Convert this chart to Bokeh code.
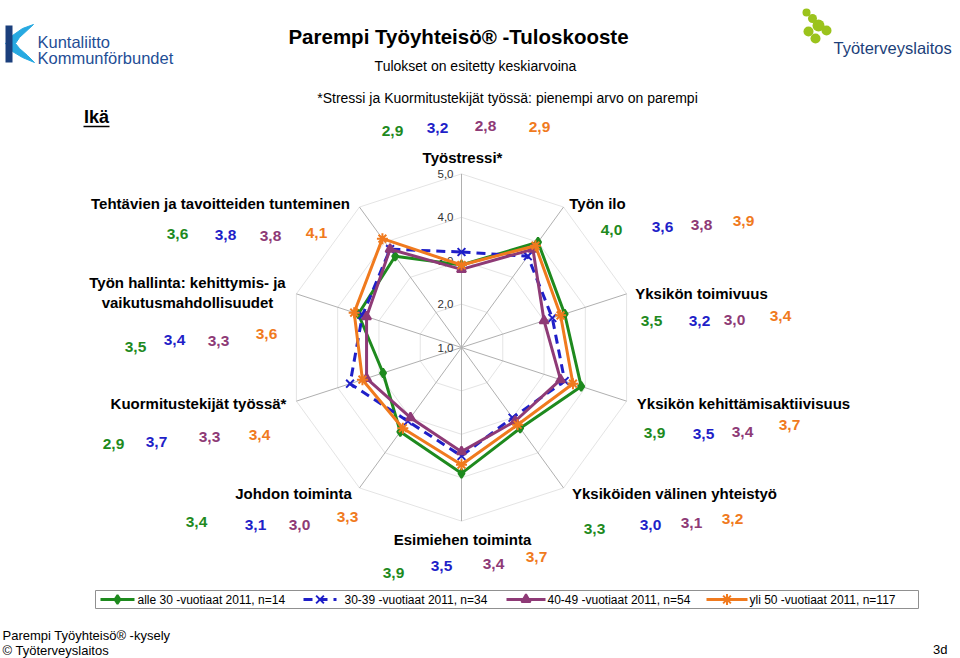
import math
from bokeh.plotting import figure
from bokeh.models import Range1d
from bokeh.embed import file_html
from bokeh.resources import INLINE
from bokeh.core.properties import value

# ---------------- data ----------------
categories = ["Työstressi*", "Työn ilo", "Yksikön toimivuus",
              "Yksikön kehittämisaktiivisuus", "Yksiköiden välinen yhteistyö",
              "Esimiehen toiminta", "Johdon toiminta", "Kuormitustekijät työssä*",
              "Työn hallinta: kehittymis- ja\nvaikutusmahdollisuudet",
              "Tehtävien ja tavoitteiden tunteminen"]
series_names = ["alle 30 -vuotiaat 2011, n=14", "30-39 -vuotiaat 2011, n=34",
                "40-49 -vuotiaat 2011, n=54", "yli 50 -vuotiaat 2011, n=117"]
alle30 = [2.9, 4.0, 3.5, 3.9, 3.3, 3.9, 3.4, 2.9, 3.5, 3.6]
v30_39 = [3.2, 3.6, 3.2, 3.5, 3.0, 3.5, 3.1, 3.7, 3.4, 3.8]
v40_49 = [2.8, 3.8, 3.0, 3.4, 3.1, 3.4, 3.0, 3.3, 3.3, 3.8]
yli50 = [2.9, 3.9, 3.4, 3.7, 3.2, 3.7, 3.3, 3.4, 3.6, 4.1]
ticks = [1.0, 2.0, 3.0, 4.0, 5.0]
tick_labels = ["1,0", "2,0", "3,0", "4,0", "5,0"]

series = [alle30, v30_39, v40_49, yli50]

# ---------------- styles / layout ----------------
colors = ["#1E8A1E", "#1F1FC8", "#8E3A76", "#F07A1E"]
markers = ["diamond", "x", "triangle", "asterisk"]
msizes = [9, 11, 9, 11]
dashes = ["solid", "9 6", "solid", "solid"]
FONT = value("Liberation Sans")
CX, CY, UNIT = 461.0, 347.0, 43.4
RMIN = ticks[0]
N = len(categories)

cat_pos = [(462, 157), (597, 203), (701, 293), (743, 403), (674, 493),
           (462, 539), (293, 493), (198, 403), (187, 282), (220, 203)]
val_pos = [
    [(392, 130), (437, 127), (485, 125), (539, 126)],
    [(611, 229), (662, 226), (701, 224), (743, 220)],
    [(651, 320), (699, 320), (734, 319), (780, 315)],
    [(654, 432), (703, 433), (742, 431), (789, 424)],
    [(594, 528), (650, 524), (691, 522), (732, 518)],
    [(393, 572), (441, 565), (493, 563), (536, 556)],
    [(196, 521), (255, 524), (299, 524), (347, 516)],
    [(113, 443), (156, 441), (209, 436), (259, 434)],
    [(135, 346), (174, 339), (218, 340), (266, 333)],
    [(177, 233), (225, 234), (270, 235), (316, 232)],
]


def polar(v, i):
    r = (v - RMIN) * UNIT
    a = 2 * math.pi * i / N
    return CX + r * math.sin(a), CY - r * math.cos(a)


p = figure(width=960, height=658, x_range=Range1d(0, 960), y_range=Range1d(658, 0),
           output_backend="svg", toolbar_location=None, min_border=0,
           x_axis_location=None, y_axis_location=None)
p.grid.visible = False
p.outline_line_color = None
p.background_fill_color = "white"

# rings
for t in ticks[1:]:
    xs, ys = [], []
    for i in range(N + 1):
        x, y = polar(t, i % N)
        xs.append(x); ys.append(y)
    p.line(xs, ys, line_color="#e4e4e4", line_width=1)
# spokes
for i in range(N):
    x, y = polar(ticks[-1], i)
    p.line([CX, x], [CY, y], line_color="#b0b0b0", line_width=1)
# tick labels
p.text(x=[CX - 8] * len(ticks), y=[polar(t, 0)[1] for t in ticks], text=tick_labels,
       text_align="right", text_baseline="middle", text_font=FONT,
       text_font_size="11.5px", text_color="#333333")

# series
for s, vals in enumerate(series):
    pts = [polar(v, i) for i, v in enumerate(vals)]
    xs = [q[0] for q in pts] + [pts[0][0]]
    ys = [q[1] for q in pts] + [pts[0][1]]
    p.line(xs, ys, line_color=colors[s], line_width=3, line_dash=dashes[s])
    p.scatter(xs[:-1], ys[:-1], marker=markers[s], size=msizes[s],
              line_color=colors[s], fill_color=colors[s], line_width=2)

# category labels
for i, name in enumerate(categories):
    lines = name.split("\n")
    x0, y0 = cat_pos[i]
    p.text(x=[x0] * len(lines), y=[y0 + 20 * k for k in range(len(lines))], text=lines,
           text_align="center", text_baseline="middle", text_font=FONT,
           text_font_style="bold", text_font_size="15px", text_color="black")
    for s in range(4):
        vx, vy = val_pos[i][s]
        p.text(x=[vx], y=[vy], text=[f"{series[s][i]:.1f}".replace(".", ",")],
               text_align="center", text_baseline="middle", text_font=FONT,
               text_font_style="bold", text_font_size="15.5px", text_color=colors[s])

# titles
p.text(x=[458], y=[36], text=["Parempi Työyhteisö® -Tuloskooste"], text_align="center",
       text_baseline="middle", text_font=FONT, text_font_style="bold",
       text_font_size="20.5px", text_color="black")
p.text(x=[475], y=[65], text=["Tulokset on esitetty keskiarvoina"], text_align="center",
       text_baseline="middle", text_font=FONT, text_font_size="14px", text_color="black")
p.text(x=[507], y=[97], text=["*Stressi ja Kuormitustekijät työssä: pienempi arvo on parempi"],
       text_align="center", text_baseline="middle", text_font=FONT,
       text_font_size="14px", text_color="black")
p.text(x=[96], y=[116], text=["Ikä"], text_align="center", text_baseline="middle",
       text_font=FONT, text_font_style="bold", text_font_size="18px", text_color="black")
p.line([83, 109], [126, 126], line_color="black", line_width=1.5)

# legend
p.quad(left=[95], right=[918], top=[590], bottom=[608], fill_color="white",
       line_color="#909090", line_width=1)
leg = [(100, 134, 137), (303, 336, 344), (506, 545, 547), (706, 747, 749)]
for s in range(4):
    a, b, tx = leg[s]
    p.line([a, b], [599, 599], line_color=colors[s], line_width=3, line_dash=dashes[s])
    p.scatter([(a + b) / 2], [599], marker=markers[s], size=msizes[s],
              line_color=colors[s], fill_color=colors[s], line_width=2)
    p.text(x=[tx], y=[599], text=[series_names[s]], text_align="left",
           text_baseline="middle", text_font=FONT, text_font_size="12px",
           text_color="black")

# footer
p.text(x=[2, 2], y=[635, 650], text=["Parempi Työyhteisö® -kysely", "© Työterveyslaitos"],
       text_align="left", text_baseline="middle", text_font=FONT,
       text_font_size="13px", text_color="black")
p.text(x=[947], y=[649], text=["3d"], text_align="right", text_baseline="middle",
       text_font=FONT, text_font_size="13px", text_color="black")

# Kuntaliitto logo
p.patch([33, 22, 12, 5, 12, 22, 34, 27, 19, 15, 19, 33],
        [24, 28, 35, 43, 51, 57, 62, 55, 48, 43, 37, 24], fill_color="#27A9E1",
        line_color="#27A9E1")
p.quad(left=[5], right=[12], top=[25], bottom=[62], fill_color="#1B3F7C", line_color=None)
p.text(x=[37, 37], y=[41, 57], text=["Kuntaliitto", "Kommunförbundet"], text_align="left",
       text_baseline="middle", text_font=FONT, text_font_size="16.5px", text_color="#1F4E96")

# Työterveyslaitos logo
p.circle(x=[806, 812, 818, 808, 826, 815], y=[12, 18, 25, 31, 30, 38],
         radius=[4, 4.5, 6, 5, 5, 5], fill_color="#9BC31C", line_color=None)
p.text(x=[833], y=[47], text=["Työterveyslaitos"], text_align="left", text_baseline="middle",
       text_font=FONT, text_font_size="16.5px", text_color="#1C3F7A")

open("out.html", "w").write(file_html(p, INLINE))
